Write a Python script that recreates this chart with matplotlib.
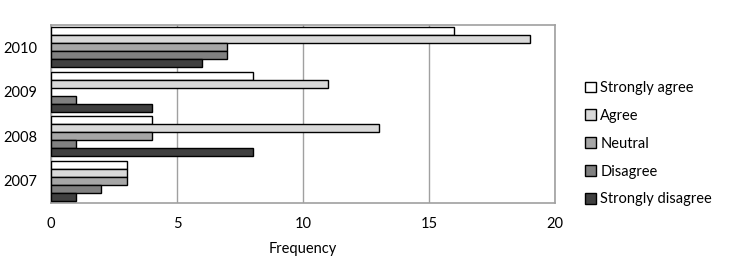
import numpy as np
import matplotlib
matplotlib.use('Agg')
import matplotlib.pyplot as plt
from matplotlib.patches import Patch

# Data
YEARS = ['2007', '2008', '2009', '2010']
RESPONSES = ['Strongly agree', 'Agree', 'Neutral', 'Disagree', 'Strongly disagree']
STRONGLY_AGREE = [3, 4, 8, 16]
AGREE = [3, 13, 11, 19]
NEUTRAL = [3, 4, 0, 7]
DISAGREE = [2, 1, 1, 7]
STRONGLY_DISAGREE = [1, 8, 4, 6]
COLORS = ['#ffffff', '#d9d9d9', '#a6a6a6', '#808080', '#404040']

plt.rcParams['font.family'] = ['Lato', 'DejaVu Sans']

fig = plt.figure(figsize=(7.36, 2.68), dpi=100)
ax = fig.add_axes([0.0693, 0.2425, 0.6847, 0.6645])

series = [STRONGLY_AGREE, AGREE, NEUTRAL, DISAGREE, STRONGLY_DISAGREE]
y = np.arange(len(YEARS))
h = 0.18
for k, vals in enumerate(series):
    # first series on top within each group
    offs = (2 - k) * h
    ax.barh(y + offs, vals, height=h, color=COLORS[k], edgecolor='black',
            linewidth=1.0, zorder=3)

ax.set_xlim(0, 20)
ax.set_ylim(-0.5, len(YEARS) - 0.5)
ax.set_xticks([0, 5, 10, 15, 20])
ax.set_yticks(y)
ax.set_yticklabels(YEARS, fontsize=10.5)
ax.tick_params(axis='x', labelsize=10.5, length=0, pad=10)
ax.tick_params(axis='y', length=0, pad=10)
ax.grid(axis='x', color='#a0a0a0', linewidth=1.0, zorder=0)
for s in ax.spines.values():
    s.set_color('#a0a0a0')
    s.set_linewidth(1.2)
ax.set_xlabel('Frequency', fontsize=10.5, labelpad=8)

handles = [Patch(facecolor=c, edgecolor='black', linewidth=1.0) for c in COLORS]
fig.legend(handles, RESPONSES, loc='upper left', bbox_to_anchor=(0.785, 0.725),
           frameon=False, fontsize=10.5, handlelength=0.75, handleheight=0.75,
           handletextpad=0.3, labelspacing=0.95, borderpad=0)

fig.savefig('out.png', dpi=100)
